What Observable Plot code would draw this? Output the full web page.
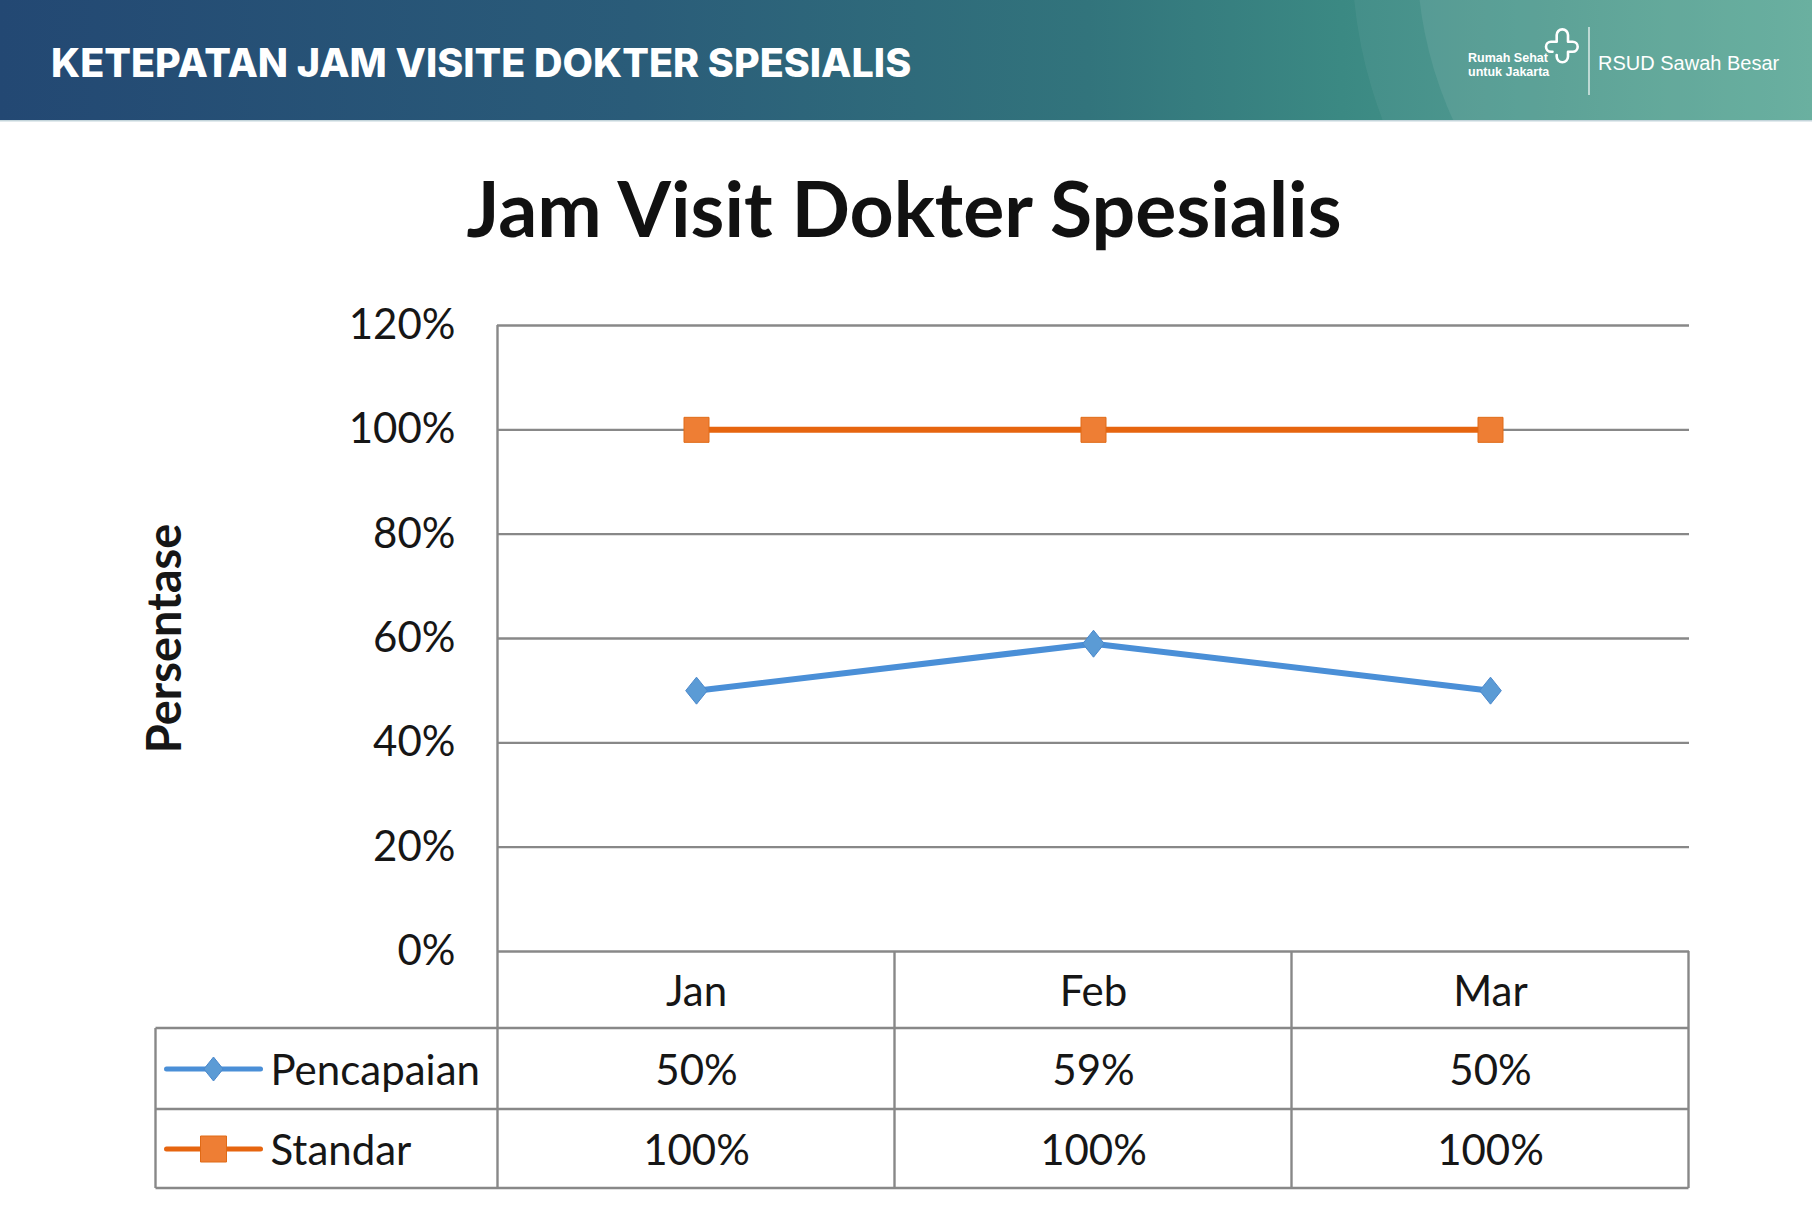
<!DOCTYPE html>
<html>
<head>
<meta charset="utf-8">
<script src="https://cdn.jsdelivr.net/npm/d3@7"></script>
<script src="https://cdn.jsdelivr.net/npm/@observablehq/plot@0.6"></script>
<style>
  html, body { margin: 0; padding: 0; background: #ffffff; }
  #page { position: relative; width: 1812px; height: 1230px; overflow: hidden; background: #ffffff; }
  #banner { position: absolute; left: 0; top: 0; }
  #chart { position: absolute; left: 0; top: 260px; }
</style>
</head>
<body>
<div id="page">
  <svg id="banner" width="1812" height="260" xmlns="http://www.w3.org/2000/svg">
    <defs>
      <linearGradient id="bannerFill" x1="0" x2="1" y1="0" y2="0">
        <stop offset="0" stop-color="#234873"/>
        <stop offset="0.35" stop-color="#2a5c79"/>
        <stop offset="0.6" stop-color="#32747c"/>
        <stop offset="0.74" stop-color="#3b8983"/>
        <stop offset="1" stop-color="#56a693"/>
      </linearGradient>
      <clipPath id="bannerClip"><rect width="1812" height="120"/></clipPath>
    </defs>
    <rect width="1812" height="120" fill="url(#bannerFill)"/>
    <g clip-path="url(#bannerClip)">
      <circle cx="1812" cy="-45" r="460" fill="#ffffff" fill-opacity="0.05"/>
      <circle cx="1812" cy="-45" r="395" fill="#ffffff" fill-opacity="0.08"/>
    </g>
    <rect y="120" width="1812" height="1.5" fill="#c4d5db"/>
    <text x="51" y="77" font-family="Inter, 'DejaVu Sans', sans-serif" font-weight="800" font-size="39.5" fill="#ffffff">KETEPATAN JAM VISITE DOKTER SPESIALIS</text>

    <!-- logo block -->
    <text x="1468" y="62" font-family="'Liberation Sans', Arial, sans-serif" font-weight="bold" font-size="12.5" fill="#ffffff">Rumah Sehat</text>
    <text x="1468" y="76" font-family="'Liberation Sans', Arial, sans-serif" font-weight="bold" font-size="12.5" fill="#ffffff">untuk Jakarta</text>
    <path d="M1552.5 51.7 L1551 51.7 A5 5 0 0 1 1551 41.7 L1556.7 41.7 L1556.7 35 A5.65 5.65 0 0 1 1568 35 L1568 41.7 L1572.7 41.7 A5 5 0 0 1 1572.7 51.7 L1568 51.7 L1568 56.6 A5.65 5.65 0 0 1 1556.7 56.6 L1556.7 55"
          fill="none" stroke="#ffffff" stroke-width="2.6" stroke-linecap="round" stroke-linejoin="round"/>
    <line x1="1589" x2="1589" y1="27" y2="95" stroke="#ffffff" stroke-width="1.3" stroke-opacity="0.9"/>
    <text x="1598" y="70" font-family="'Liberation Sans', Arial, sans-serif" font-size="20" fill="#ffffff">RSUD Sawah Besar</text>

    <!-- chart title -->
    <text x="904" y="237" text-anchor="middle" font-family="Lato, 'Open Sans', sans-serif" font-weight="bold" font-size="77" fill="#111111">Jam Visit Dokter Spesialis</text>
  </svg>
  <div id="chart"></div>
</div>

<script>
// ---- data ----
const months = ["Jan", "Feb", "Mar"];
const seriesNames = ["Pencapaian", "Standar"];
const pencapaian = [0.50, 0.59, 0.50];
const standar = [1.00, 1.00, 1.00];
const yTicks = [0, 0.2, 0.4, 0.6, 0.8, 1.0, 1.2];
const yLabel = "Persentase";

const seriesValues = {Pencapaian: pencapaian, Standar: standar};
const points = seriesNames.flatMap((name) =>
  months.map((month, j) => ({series: name, month, value: seriesValues[name][j]}))
);
const pct = d3.format(".0%");

// ---- marker shapes ----
const diamond = {
  draw(ctx, size) {
    const r = Math.sqrt(size / Math.PI);
    const hw = r * 0.8;
    ctx.moveTo(0, -r);
    ctx.lineTo(hw, 0);
    ctx.lineTo(0, r);
    ctx.lineTo(-hw, 0);
    ctx.closePath();
  }
};
const square = {
  draw(ctx, size) {
    const r = Math.sqrt(size / Math.PI);
    ctx.rect(-r, -r, 2 * r, 2 * r);
  }
};

// ---- styling per series ----
const look = {
  Pencapaian: {line: "#4a8fd7", fill: "#5b9bd5", stroke: "#4a88cc", symbol: diamond, r: 13.5, legendR: 12},
  Standar:    {line: "#e6650f", fill: "#ee7e34", stroke: "#e06a16", symbol: square, r: 12.5, legendR: 13}
};

// ---- layout ----
const W = 1812;
const marginLeft = 497, marginRight = 123, marginTop = 65, marginBottom = 245;
const H = marginTop + 626 + marginBottom;
const gridColor = "#888888";
const legendColumn = 342;               // width of the series-name column
const rowBottoms = [77, 158, 237];      // table row boundaries below the 0% line
const rowCenters = [39, 118, 198];      // vertical centres of the table rows
const textColor = "#161616";

// Data table under the plot: cell borders and series swatches
function dataTable(index, scales) {
  const {x, y} = scales;
  const step = x(months[1]) - x(months[0]);
  const xl = x(months[0]) - step / 2;
  const xr = x(months[months.length - 1]) + step / 2;
  const y0 = y(0);
  const yb = y0 + rowBottoms[rowBottoms.length - 1];
  const g = d3.create("svg:g");
  const lines = g.append("g").attr("stroke", gridColor).attr("stroke-width", 2.4).attr("fill", "none");
  // value axis line and column separators
  lines.append("line").attr("x1", xl).attr("x2", xl).attr("y1", y(d3.max(yTicks))).attr("y2", yb);
  months.forEach((m) => {
    const xe = x(m) + step / 2;
    lines.append("line").attr("x1", xe).attr("x2", xe).attr("y1", y0).attr("y2", yb);
  });
  // row boundaries and the left border of the legend column
  rowBottoms.forEach((off) => {
    lines.append("line").attr("x1", xl - legendColumn).attr("x2", xr).attr("y1", y0 + off).attr("y2", y0 + off);
  });
  lines.append("line").attr("x1", xl - legendColumn).attr("x2", xl - legendColumn)
    .attr("y1", y0 + rowBottoms[0]).attr("y2", yb);
  // series swatches
  seriesNames.forEach((name, i) => {
    const s = look[name];
    const cy = y0 + rowCenters[i + 1];
    const cx = xl - 284;
    g.append("line").attr("x1", cx - 47).attr("x2", cx + 47).attr("y1", cy).attr("y2", cy)
      .attr("stroke", s.line).attr("stroke-width", 5).attr("stroke-linecap", "round");
    const p = d3.path();
    s.symbol.draw(p, Math.PI * s.legendR * s.legendR);
    g.append("path").attr("d", p.toString()).attr("transform", `translate(${cx},${cy})`)
      .attr("fill", s.fill).attr("stroke", s.stroke).attr("stroke-width", 1);
  });
  return g.node();
}

const marks = [
  Plot.ruleY(yTicks, {stroke: gridColor, strokeWidth: 2.4}),
  dataTable,
  Plot.axisY({
    ticks: yTicks, tickFormat: pct, tickSize: 0, tickPadding: 42,
    fontSize: 42, fill: textColor, label: null
  }),
  Plot.text([yLabel], {
    frameAnchor: "left", textAnchor: "middle", rotate: -90, dx: -332,
    fontSize: 47, fontWeight: "bold", fill: textColor
  }),
  // month header row
  Plot.text(months, {x: (d) => d, y: () => 0, dy: rowCenters[0] + 2, fontSize: 42, fill: textColor})
];

seriesNames.forEach((name, i) => {
  const s = look[name];
  const data = points.filter((d) => d.series === name);
  marks.push(
    Plot.line(data, {x: "month", y: "value", stroke: s.line, strokeWidth: 6}),
    Plot.dot(data, {x: "month", y: "value", symbol: s.symbol, r: s.r, fill: s.fill, stroke: s.stroke, strokeWidth: 1}),
    Plot.text(data, {x: "month", y: () => 0, dy: rowCenters[i + 1] + 2, text: (d) => pct(d.value), fontSize: 42, fill: textColor}),
    Plot.text([name], {frameAnchor: "left", y: () => 0, dx: -227, dy: rowCenters[i + 1] + 2, textAnchor: "start", fontSize: 42, fill: textColor})
  );
});

const chart = Plot.plot({
  width: W,
  height: H,
  marginLeft, marginRight, marginTop, marginBottom,
  style: {fontFamily: "Lato, 'Open Sans', sans-serif", background: "transparent", color: textColor},
  x: {type: "point", domain: months, padding: 0.5, axis: null},
  y: {domain: [0, 1.2], axis: null},
  marks
});

document.getElementById("chart").appendChild(chart);
</script>
</body>
</html>
